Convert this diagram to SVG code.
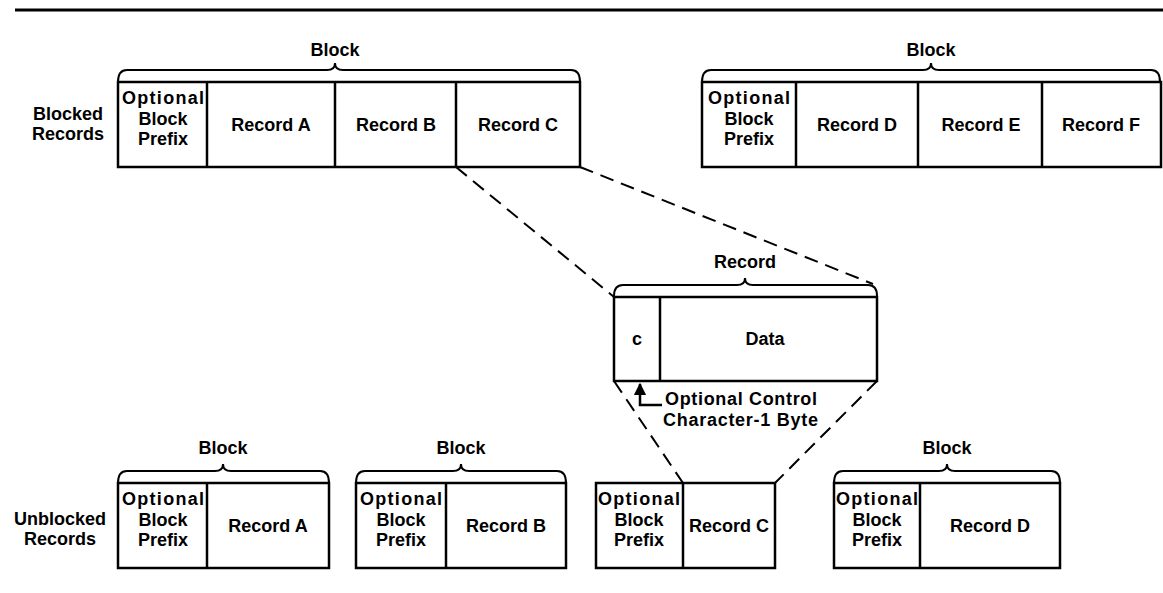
<svg xmlns="http://www.w3.org/2000/svg" width="1163" height="593" viewBox="0 0 1163 593">
<style>
.t{font-family:"Liberation Sans",Arial,sans-serif;font-weight:bold;font-size:18px;fill:#000;text-anchor:middle}
.ts{text-anchor:start}
.box{fill:#fff;stroke:#000;stroke-width:2.5}
.div{stroke:#000;stroke-width:2.5}
.brace{fill:none;stroke:#000;stroke-width:2}
.dash{fill:none;stroke:#000;stroke-width:2;stroke-dasharray:14 8}
</style>
<defs>
<marker id="ah" viewBox="0 0 10 10" refX="9" refY="5" markerWidth="5" markerHeight="5" orient="auto"><path d="M0,0 L10,5 L0,10 z" fill="#000"/></marker>
</defs>
<rect width="1163" height="593" fill="#fff"/>
<line x1="15" y1="10" x2="1163" y2="10" stroke="#000" stroke-width="3"/>

<g id="connectors">
<path class="dash" d="M456,167 L614,297"/>
<path class="dash" d="M580,167 L873,284"/>
<path class="dash" d="M614,381 L683,483"/>
<path class="dash" d="M877,381 L775,483"/>
</g>

<g id="labels">
<text class="t" x="68" y="120">Blocked</text>
<text class="t" x="68" y="140">Records</text>
<text class="t" x="60" y="525">Unblocked</text>
<text class="t" x="60" y="545">Records</text>
</g>

<g id="blocked1">
<text class="t" x="335" y="56">Block</text>
<path class="brace" d="M118,82 Q118,70 127,70 L327,70 Q335,70 335,63 Q335,70 343,70 L571,70 Q580,70 580,82"/>
<rect class="box" x="118" y="82" width="462" height="85"/>
<line class="div" x1="207" y1="82" x2="207" y2="167"/>
<line class="div" x1="335" y1="82" x2="335" y2="167"/>
<line class="div" x1="456" y1="82" x2="456" y2="167"/>
<text class="t" x="163" y="104" textLength="82">Optional</text>
<text class="t" x="163" y="125">Block</text>
<text class="t" x="163" y="145">Prefix</text>
<text class="t" x="271" y="131">Record A</text>
<text class="t" x="396" y="131">Record B</text>
<text class="t" x="518" y="131">Record C</text>
</g>

<g id="blocked2">
<text class="t" x="931" y="56">Block</text>
<path class="brace" d="M702,82 Q702,70 711,70 L923,70 Q931,70 931,63 Q931,70 939,70 L1151,70 Q1160,70 1160,82"/>
<rect class="box" x="702" y="82" width="459" height="85"/>
<line class="div" x1="796" y1="82" x2="796" y2="167"/>
<line class="div" x1="918" y1="82" x2="918" y2="167"/>
<line class="div" x1="1042" y1="82" x2="1042" y2="167"/>
<text class="t" x="749" y="104" textLength="82">Optional</text>
<text class="t" x="749" y="125">Block</text>
<text class="t" x="749" y="145">Prefix</text>
<text class="t" x="857" y="131">Record D</text>
<text class="t" x="981" y="131">Record E</text>
<text class="t" x="1101" y="131">Record F</text>
</g>

<g id="record">
<text class="t" x="745" y="268">Record</text>
<path class="brace" d="M614,296 Q614,285 623,285 L737,285 Q745,285 745,278 Q745,285 753,285 L868,285 Q877,285 877,296"/>
<rect class="box" x="614" y="297" width="263" height="84"/>
<line class="div" x1="660" y1="297" x2="660" y2="381"/>
<text class="t" x="637" y="345">c</text>
<text class="t" x="765" y="345">Data</text>
</g>

<g id="control-note">
<path d="M662,405 L640,405 L640,384" fill="none" stroke="#000" stroke-width="2.5" marker-end="url(#ah)"/>
<text class="t ts" x="665" y="405" textLength="152">Optional Control</text>
<text class="t ts" x="663" y="426" textLength="155">Character-1 Byte</text>
</g>

<g id="unblockedA">
<text class="t" x="223" y="454">Block</text>
<path class="brace" d="M118,483 Q118,471 127,471 L215,471 Q223,471 223,464 Q223,471 231,471 L320,471 Q329,471 329,483"/>
<rect class="box" x="118" y="483" width="211" height="85"/>
<line class="div" x1="207" y1="483" x2="207" y2="568"/>
<text class="t" x="163" y="505" textLength="82">Optional</text>
<text class="t" x="163" y="526">Block</text>
<text class="t" x="163" y="546">Prefix</text>
<text class="t" x="268" y="532">Record A</text>
</g>

<g id="unblockedB">
<text class="t" x="461" y="454">Block</text>
<path class="brace" d="M356,483 Q356,471 365,471 L453,471 Q461,471 461,464 Q461,471 469,471 L557,471 Q566,471 566,483"/>
<rect class="box" x="356" y="483" width="210" height="85"/>
<line class="div" x1="446" y1="483" x2="446" y2="568"/>
<text class="t" x="401" y="505" textLength="82">Optional</text>
<text class="t" x="401" y="526">Block</text>
<text class="t" x="401" y="546">Prefix</text>
<text class="t" x="506" y="532">Record B</text>
</g>

<g id="unblockedC">
<rect class="box" x="596" y="483" width="179" height="85"/>
<line class="div" x1="683" y1="483" x2="683" y2="568"/>
<text class="t" x="639" y="505" textLength="82">Optional</text>
<text class="t" x="639" y="526">Block</text>
<text class="t" x="639" y="546">Prefix</text>
<text class="t" x="729" y="532">Record C</text>
</g>

<g id="unblockedD">
<text class="t" x="947" y="454">Block</text>
<path class="brace" d="M834,483 Q834,471 843,471 L939,471 Q947,471 947,464 Q947,471 955,471 L1051,471 Q1060,471 1060,483"/>
<rect class="box" x="834" y="483" width="226" height="85"/>
<line class="div" x1="920" y1="483" x2="920" y2="568"/>
<text class="t" x="877" y="505" textLength="82">Optional</text>
<text class="t" x="877" y="526">Block</text>
<text class="t" x="877" y="546">Prefix</text>
<text class="t" x="990" y="532">Record D</text>
</g>
</svg>
